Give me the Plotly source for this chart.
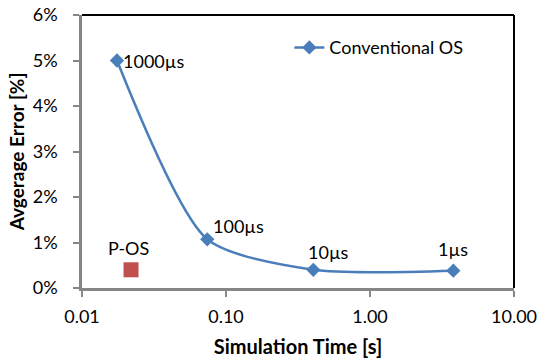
import numpy as np
import plotly.graph_objects as go

# Conventional OS: simulation time vs. average error for each time quantum
conv_labels = ["1000µs", "100µs", "10µs", "1µs"]
conv_time = [0.0175, 0.0741, 0.404, 3.79]      # seconds
conv_error = [0.050, 0.0107, 0.0040, 0.0038]   # fraction

# P-OS single result
pos_label = ["P-OS"]
pos_time = [0.0219]
pos_error = [0.0040]

x_ticks = [0.01, 0.1, 1, 10]
x_tick_text = ["0.01", "0.10", "1.00", "10.00"]
y_ticks = [0, 0.01, 0.02, 0.03, 0.04, 0.05, 0.06]
y_tick_text = ["0%", "1%", "2%", "3%", "4%", "5%", "6%"]

FONT = "Lato"
BLUE = "#4A7EBB"
RED = "#C0504D"
AXIS_GRAY = "#868686"

fig = go.Figure()

fig.add_trace(go.Scatter(
    x=conv_time, y=conv_error, mode="lines+markers",
    name="Conventional OS",
    line=dict(color=BLUE, width=2.5, shape="spline", smoothing=0.7),
    marker=dict(symbol="diamond", size=11, color=BLUE),
))

fig.add_trace(go.Scatter(
    x=pos_time, y=pos_error, mode="markers", showlegend=False,
    marker=dict(symbol="square", size=15, color=RED),
))

# point labels
label_offsets = [(36, 0), (31, 13), (15, 18), (0, 22)]
for lab, xv, yv, (dx, dy) in zip(conv_labels, conv_time, conv_error, label_offsets):
    fig.add_annotation(x=np.log10(xv), y=yv, text=lab, showarrow=False,
                       xshift=dx, yshift=dy,
                       font=dict(family=FONT, size=18, color="#000000"))
for lab, xv, yv in zip(pos_label, pos_time, pos_error):
    fig.add_annotation(x=np.log10(xv), y=yv, text=lab, showarrow=False,
                       xshift=-3, yshift=22,
                       font=dict(family=FONT, size=18, color="#000000"))

# black frame on top and right
fig.add_shape(type="line", xref="paper", yref="paper", x0=0, x1=1, y0=1, y1=1,
              line=dict(color="#000000", width=2))
fig.add_shape(type="line", xref="paper", yref="paper", x0=1, x1=1, y0=0, y1=1,
              line=dict(color="#000000", width=2))

fig.update_xaxes(
    type="log", range=[-2, 1], automargin=False,
    tickvals=x_ticks, ticktext=x_tick_text,
    ticks="outside", ticklen=6, tickwidth=1.5, tickcolor=AXIS_GRAY,
    ticklabelstandoff=5,
    showline=True, linecolor=AXIS_GRAY, linewidth=2.5,
    showgrid=False, zeroline=False,
    tickfont=dict(family=FONT, size=18, color="#000000"),
    title=dict(text="<b>Simulation Time [s]</b>", standoff=14,
               font=dict(family=FONT, size=20, color="#000000")),
)
fig.update_yaxes(
    range=[0, 0.06], automargin=False,
    tickvals=y_ticks, ticktext=y_tick_text,
    ticks="outside", ticklen=6, tickwidth=1.5, tickcolor=AXIS_GRAY,
    ticklabelstandoff=12,
    showline=True, linecolor=AXIS_GRAY, linewidth=2.5,
    showgrid=False, zeroline=False,
    tickfont=dict(family=FONT, size=18, color="#000000"),
    title=dict(text="<b>Avgerage Error [%]</b>", standoff=4,
               font=dict(family=FONT, size=19, color="#000000")),
)

fig.update_layout(
    width=540, height=358,
    margin=dict(l=82, r=26, t=15, b=70),
    paper_bgcolor="#FFFFFF", plot_bgcolor="#FFFFFF",
    showlegend=True,
    legend=dict(x=0.48, y=0.88, xanchor="left", yanchor="middle",
                bgcolor="rgba(0,0,0,0)",
                font=dict(family=FONT, size=18, color="#000000")),
)

fig.write_html("out.html")
